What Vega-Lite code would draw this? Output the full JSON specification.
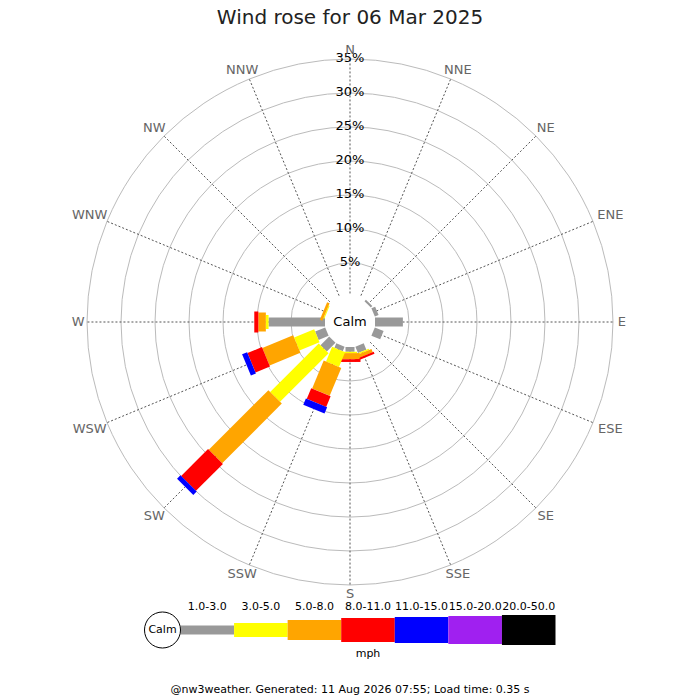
{
  "$schema": "https://vega.github.io/schema/vega-lite/v6.json",
  "padding": {"top": 8, "left": 0, "right": 0, "bottom": 0},
  "spacing": 0,
  "center": true,
  "bounds": "flush",
  "title": {
    "text": "Wind rose for 06 Mar 2025",
    "fontSize": 20,
    "fontWeight": "normal",
    "color": "#222222",
    "anchor": "middle",
    "offset": 2
  },
  "datasets": {
    "bins": [
      {"bin": "1.0-3.0", "i": 0},
      {"bin": "3.0-5.0", "i": 1},
      {"bin": "5.0-8.0", "i": 2},
      {"bin": "8.0-11.0", "i": 3},
      {"bin": "11.0-15.0", "i": 4},
      {"bin": "15.0-20.0", "i": 5},
      {"bin": "20.0-50.0", "i": 6}
    ],
    "rose": [
      {"deg": 45, "bin": "1.0-3.0", "pct": 0.3},
      {"deg": 67.5, "bin": "1.0-3.0", "pct": 0.6},
      {"deg": 90, "bin": "1.0-3.0", "pct": 4.1},
      {"deg": 112.5, "bin": "1.0-3.0", "pct": 1.4},
      {"deg": 157.5, "bin": "1.0-3.0", "pct": 1.0},
      {"deg": 157.5, "bin": "3.0-5.0", "pct": 0.2},
      {"deg": 157.5, "bin": "5.0-8.0", "pct": 0.5},
      {"deg": 157.5, "bin": "8.0-11.0", "pct": 0.3},
      {"deg": 180, "bin": "1.0-3.0", "pct": 0.7},
      {"deg": 180, "bin": "3.0-5.0", "pct": 0.2},
      {"deg": 180, "bin": "5.0-8.0", "pct": 0.9},
      {"deg": 180, "bin": "8.0-11.0", "pct": 0.4},
      {"deg": 202.5, "bin": "1.0-3.0", "pct": 0.7},
      {"deg": 202.5, "bin": "3.0-5.0", "pct": 2.35},
      {"deg": 202.5, "bin": "5.0-8.0", "pct": 4.45},
      {"deg": 202.5, "bin": "8.0-11.0", "pct": 1.7},
      {"deg": 202.5, "bin": "11.0-15.0", "pct": 1.0},
      {"deg": 225, "bin": "1.0-3.0", "pct": 1.8},
      {"deg": 225, "bin": "3.0-5.0", "pct": 10.1},
      {"deg": 225, "bin": "5.0-8.0", "pct": 12.4},
      {"deg": 225, "bin": "8.0-11.0", "pct": 5.6},
      {"deg": 225, "bin": "11.0-15.0", "pct": 0.7},
      {"deg": 247.5, "bin": "1.0-3.0", "pct": 1.6},
      {"deg": 247.5, "bin": "3.0-5.0", "pct": 3.2},
      {"deg": 247.5, "bin": "5.0-8.0", "pct": 4.9},
      {"deg": 247.5, "bin": "8.0-11.0", "pct": 2.3},
      {"deg": 247.5, "bin": "11.0-15.0", "pct": 0.8},
      {"deg": 270, "bin": "1.0-3.0", "pct": 8.3},
      {"deg": 270, "bin": "3.0-5.0", "pct": 0.4},
      {"deg": 270, "bin": "5.0-8.0", "pct": 1.1},
      {"deg": 270, "bin": "8.0-11.0", "pct": 0.6},
      {"deg": 292.5, "bin": "3.0-5.0", "pct": 0.15},
      {"deg": 292.5, "bin": "5.0-8.0", "pct": 0.4}
    ],
    "dirs": [
      {"name": "N", "deg": 0}, {"name": "NNE", "deg": 22.5},
      {"name": "NE", "deg": 45}, {"name": "ENE", "deg": 67.5},
      {"name": "E", "deg": 90}, {"name": "ESE", "deg": 112.5},
      {"name": "SE", "deg": 135}, {"name": "SSE", "deg": 157.5},
      {"name": "S", "deg": 180}, {"name": "SSW", "deg": 202.5},
      {"name": "SW", "deg": 225}, {"name": "WSW", "deg": 247.5},
      {"name": "W", "deg": 270}, {"name": "WNW", "deg": 292.5},
      {"name": "NW", "deg": 315}, {"name": "NNW", "deg": 337.5}
    ],
    "rings": [
      {"pct": 5}, {"pct": 10}, {"pct": 15}, {"pct": 20},
      {"pct": 25}, {"pct": 30}, {"pct": 35}
    ]
  },
  "vconcat": [
    {
      "width": 700,
      "height": 570,
      "layer": [
        {
          "data": {"name": "rings"},
          "transform": [{"calculate": "datum.pct + 3.676", "as": "R"}],
          "mark": {"type": "point", "shape": "circle", "filled": false, "stroke": "#bbbbbb", "strokeWidth": 1, "opacity": 1},
          "encoding": {
            "x": {"datum": 0, "type": "quantitative", "scale": {"domain": [-51.4706, 51.4706], "nice": false, "zero": false}, "axis": null},
            "y": {"datum": 0, "type": "quantitative", "scale": {"domain": [-40.882, 42.941], "nice": false, "zero": false}, "axis": null},
            "size": {"field": "R", "type": "quantitative", "legend": null, "scale": {"type": "pow", "exponent": 2, "domain": [0, 51.4706], "range": [0, 490000], "zero": true, "nice": false}}
          }
        },
        {
          "data": {"name": "dirs"},
          "transform": [
            {"calculate": "datum.deg * PI / 180", "as": "a"},
            {"calculate": "4.2 * sin(datum.a)", "as": "xs"},
            {"calculate": "4.2 * cos(datum.a)", "as": "ys"},
            {"calculate": "38.676 * sin(datum.a)", "as": "xe"},
            {"calculate": "38.676 * cos(datum.a)", "as": "ye"}
          ],
          "mark": {"type": "rule", "color": "#555555", "strokeWidth": 1, "strokeDash": [2, 2]},
          "encoding": {
            "x": {"field": "xs", "type": "quantitative", "scale": {"domain": [-51.4706, 51.4706], "nice": false, "zero": false}, "axis": null},
            "y": {"field": "ys", "type": "quantitative", "scale": {"domain": [-40.882, 42.941], "nice": false, "zero": false}, "axis": null},
            "x2": {"field": "xe"},
            "y2": {"field": "ye"}
          }
        },
        {
          "data": {"name": "rose"},
          "transform": [
            {"lookup": "bin", "from": {"data": {"name": "bins"}, "key": "bin", "fields": ["i"]}},
            {"stack": "pct", "groupby": ["deg"], "sort": [{"field": "i", "order": "ascending"}], "as": ["p0", "p1"]},
            {"calculate": "datum.deg * PI / 180", "as": "a"},
            {"calculate": "(datum.p0 + 3.676) * sin(datum.a)", "as": "x0"},
            {"calculate": "(datum.p0 + 3.676) * cos(datum.a)", "as": "y0"},
            {"calculate": "(datum.p1 + 3.676) * sin(datum.a)", "as": "x1"},
            {"calculate": "(datum.p1 + 3.676) * cos(datum.a)", "as": "y1"}
          ],
          "mark": {"type": "rule", "strokeCap": "butt"},
          "encoding": {
            "x": {"field": "x0", "type": "quantitative", "scale": {"domain": [-51.4706, 51.4706], "nice": false, "zero": false}, "axis": null},
            "y": {"field": "y0", "type": "quantitative", "scale": {"domain": [-40.882, 42.941], "nice": false, "zero": false}, "axis": null},
            "x2": {"field": "x1"},
            "y2": {"field": "y1"},
            "color": {
              "field": "bin", "type": "nominal", "legend": null,
              "scale": {
                "domain": ["1.0-3.0", "3.0-5.0", "5.0-8.0", "8.0-11.0", "11.0-15.0", "15.0-20.0", "20.0-50.0"],
                "range": ["#999999", "#ffff00", "#ffa500", "#ff0000", "#0000ff", "#a020f0", "#000000"]
              }
            },
            "strokeWidth": {
              "field": "bin", "type": "ordinal", "legend": null,
              "scale": {
                "type": "ordinal",
                "domain": ["1.0-3.0", "3.0-5.0", "5.0-8.0", "8.0-11.0", "11.0-15.0", "15.0-20.0", "20.0-50.0"],
                "range": [9, 14, 19, 21, 23, 25, 27]
              }
            }
          }
        },
        {
          "data": {"name": "rings"},
          "transform": [
            {"calculate": "datum.pct + 3.676", "as": "R"},
            {"calculate": "datum.pct + '%'", "as": "lab"}
          ],
          "mark": {"type": "text", "fontSize": 13, "color": "#000000", "align": "center", "baseline": "middle", "dy": -1},
          "encoding": {
            "x": {"datum": 0, "type": "quantitative", "scale": {"domain": [-51.4706, 51.4706], "nice": false, "zero": false}, "axis": null},
            "y": {"field": "R", "type": "quantitative", "scale": {"domain": [-40.882, 42.941], "nice": false, "zero": false}, "axis": null},
            "text": {"field": "lab"}
          }
        },
        {
          "data": {"name": "dirs"},
          "transform": [
            {"calculate": "datum.deg * PI / 180", "as": "a"},
            {"calculate": "(39.27 + 0.72 * length(datum.name)) * sin(datum.a)", "as": "lx"},
            {"calculate": "39.27 * cos(datum.a) + (cos(datum.a) > 0.01 ? 0.735 : cos(datum.a) < -0.01 ? -0.735 : 0)", "as": "ly"}
          ],
          "mark": {"type": "text", "fontSize": 13, "color": "#666666", "align": "center", "baseline": "middle"},
          "encoding": {
            "x": {"field": "lx", "type": "quantitative", "scale": {"domain": [-51.4706, 51.4706], "nice": false, "zero": false}, "axis": null},
            "y": {"field": "ly", "type": "quantitative", "scale": {"domain": [-40.882, 42.941], "nice": false, "zero": false}, "axis": null},
            "text": {"field": "name"}
          }
        },
        {
          "data": {"values": [{"t": "Calm"}]},
          "mark": {"type": "text", "fontSize": 13, "color": "#000000", "align": "center", "baseline": "middle"},
          "encoding": {
            "x": {"datum": 0, "type": "quantitative", "scale": {"domain": [-51.4706, 51.4706], "nice": false, "zero": false}, "axis": null},
            "y": {"datum": 0, "type": "quantitative", "scale": {"domain": [-40.882, 42.941], "nice": false, "zero": false}, "axis": null},
            "text": {"field": "t"}
          }
        }
      ]
    },
    {
      "width": 411,
      "height": 60,
      "title": {"text": "@nw3weather. Generated: 11 Aug 2026 07:55; Load time: 0.35 s", "orient": "bottom", "anchor": "middle", "fontSize": 11, "fontWeight": "normal", "color": "#000000", "offset": 24},
      "layer": [
        {
          "data": {"name": "bins"},
          "transform": [{"calculate": "datum.i + 1", "as": "i2"}],
          "mark": {"type": "rule", "strokeCap": "butt"},
          "encoding": {
            "x": {"field": "i", "type": "quantitative", "scale": {"domain": [0, 7], "range": [36, 411], "nice": false, "zero": false}, "axis": null},
            "x2": {"field": "i2"},
            "y": {"datum": 0, "type": "quantitative", "scale": {"domain": [-1, 1]}, "axis": null},
            "color": {
              "field": "bin", "type": "nominal", "legend": null,
              "scale": {
                "domain": ["1.0-3.0", "3.0-5.0", "5.0-8.0", "8.0-11.0", "11.0-15.0", "15.0-20.0", "20.0-50.0"],
                "range": ["#999999", "#ffff00", "#ffa500", "#ff0000", "#0000ff", "#a020f0", "#000000"]
              }
            },
            "strokeWidth": {
              "field": "bin", "type": "ordinal", "legend": null,
              "scale": {
                "type": "ordinal",
                "domain": ["1.0-3.0", "3.0-5.0", "5.0-8.0", "8.0-11.0", "11.0-15.0", "15.0-20.0", "20.0-50.0"],
                "range": [9, 14, 20, 24, 26, 28, 30]
              }
            }
          }
        },
        {
          "data": {"name": "bins"},
          "mark": {"type": "text", "fontSize": 11, "color": "#000000", "align": "center", "baseline": "middle", "dx": 26.8, "dy": -23},
          "encoding": {
            "x": {"field": "i", "type": "quantitative", "scale": {"domain": [0, 7], "range": [36, 411], "nice": false, "zero": false}, "axis": null},
            "y": {"datum": 0, "type": "quantitative", "scale": {"domain": [-1, 1]}, "axis": null},
            "text": {"field": "bin"}
          }
        },
        {
          "data": {"values": [{"t": "Calm"}]},
          "mark": {"type": "point", "shape": "circle", "size": 1296, "filled": true, "fill": "#ffffff", "stroke": "#000000", "strokeWidth": 1, "opacity": 1, "xOffset": -18},
          "encoding": {
            "x": {"datum": 0, "type": "quantitative", "scale": {"domain": [0, 7], "range": [36, 411], "nice": false, "zero": false}, "axis": null},
            "y": {"datum": 0, "type": "quantitative", "scale": {"domain": [-1, 1]}, "axis": null}
          }
        },
        {
          "data": {"values": [{"t": "Calm"}]},
          "mark": {"type": "text", "fontSize": 11, "color": "#000000", "align": "center", "baseline": "middle", "dx": -18},
          "encoding": {
            "x": {"datum": 0, "type": "quantitative", "scale": {"domain": [0, 7], "range": [36, 411], "nice": false, "zero": false}, "axis": null},
            "y": {"datum": 0, "type": "quantitative", "scale": {"domain": [-1, 1]}, "axis": null},
            "text": {"field": "t"}
          }
        },
        {
          "data": {"values": [{"t": "mph"}]},
          "mark": {"type": "text", "fontSize": 11, "color": "#000000", "align": "center", "baseline": "middle", "dy": 24},
          "encoding": {
            "x": {"datum": 3.5, "type": "quantitative", "scale": {"domain": [0, 7], "range": [36, 411], "nice": false, "zero": false}, "axis": null},
            "y": {"datum": 0, "type": "quantitative", "scale": {"domain": [-1, 1]}, "axis": null},
            "text": {"field": "t"}
          }
        }
      ]
    }
  ],
  "resolve": {"scale": {"color": "independent", "strokeWidth": "independent", "size": "independent"}},
  "config": {
    "font": "DejaVu Sans",
    "view": {"stroke": null}
  }
}
